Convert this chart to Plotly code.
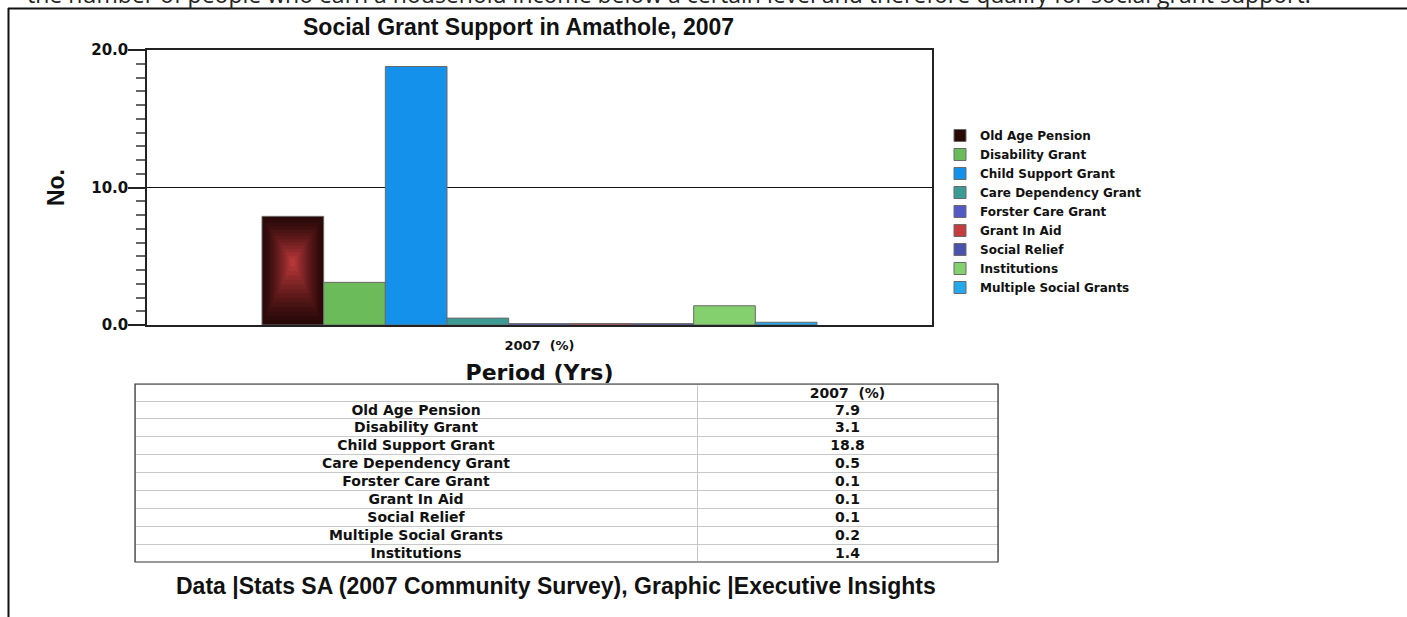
import plotly.graph_objects as go

# ---- data -------------------------------------------------------------
period = "2007  (%)"
grants = [
    "Old Age Pension",
    "Disability Grant",
    "Child Support Grant",
    "Care Dependency Grant",
    "Forster Care Grant",
    "Grant In Aid",
    "Social Relief",
    "Institutions",
    "Multiple Social Grants",
]
share_2007 = [7.9, 3.1, 18.8, 0.5, 0.1, 0.1, 0.1, 1.4, 0.2]
table_order = [
    "Old Age Pension",
    "Disability Grant",
    "Child Support Grant",
    "Care Dependency Grant",
    "Forster Care Grant",
    "Grant In Aid",
    "Social Relief",
    "Multiple Social Grants",
    "Institutions",
]
y_ticks = [0, 10, 20]

# ---- styling ----------------------------------------------------------
colors = ["#2a0909", "#6cbb5a", "#1391eb", "#3d9b95", "#5559c5",
          "#c63c3e", "#4a52ab", "#84d06e", "#23a9ec"]
W, H = 1407, 617
VERD = "DejaVu Sans"
ARIAL = "Liberation Sans"


def px_x(p):
    return p / W


def px_y(p):
    return 1 - p / H


group_w = 0.707
bw = group_w / len(grants)

fig = go.Figure()

for i, (name, val, col) in enumerate(zip(grants, share_2007, colors)):
    off = -group_w / 2 + i * bw
    fig.add_trace(go.Bar(
        x=[period], y=[val], name=name, width=bw, offset=off,
        marker=dict(color=col, line=dict(color="#6a6a6a", width=1)),
        hovertemplate="%{y:.1f}<extra>" + name + "</extra>",
    ))
    if i == 0:
        # concentric shading inside the first bar
        steps = 14
        c0 = (0x2a, 0x09, 0x09)
        c1 = (0xc6, 0x3c, 0x3e)
        cy = 0.58 * val
        for k in range(1, steps):
            t = k / steps
            f = t ** 1.3
            c = tuple(int(a + (b - a) * f) for a, b in zip(c0, c1))
            fig.add_trace(go.Bar(
                x=[period], y=[val * (1 - t)], base=[cy * t],
                width=bw * (1 - t), offset=off + bw * t / 2,
                marker=dict(color="rgb(%d,%d,%d)" % c, line=dict(width=0)),
                showlegend=False, hoverinfo="skip",
            ))

# ---- data table: grid layer + text layer --------------------------------
vals_by_name = dict(zip(grants, share_2007))
table_vals = [vals_by_name[n] for n in table_order]
tfont = dict(family=VERD, size=14, color="#111", weight="bold")
n_rows = len(table_order)

fig.add_trace(go.Table(
    domain=dict(x=[px_x(135), px_x(998)], y=[px_y(562), px_y(384)]),
    columnwidth=[562, 301],
    header=dict(values=["", ""], height=17, fill_color="white",
                line=dict(color="#c8c8c8", width=1)),
    cells=dict(values=[[""] * n_rows, [""] * n_rows], height=17.9,
               fill_color="white", line=dict(color="#c8c8c8", width=1)),
    hoverinfo="skip",
))
fig.add_trace(go.Table(
    domain=dict(x=[px_x(135), px_x(998)], y=[px_y(585), px_y(379)]),
    columnwidth=[562, 301],
    header=dict(values=["", period], height=17, align="center",
                fill_color="rgba(0,0,0,0)", line=dict(color="rgba(0,0,0,0)", width=0),
                font=tfont),
    cells=dict(values=[table_order, table_vals], format=[None, ".1f"],
               height=17.9, align="center",
               fill_color="rgba(0,0,0,0)", line=dict(color="rgba(0,0,0,0)", width=0),
               font=tfont),
))

fig.update_layout(
    width=W, height=H, autosize=False,
    margin=dict(l=0, r=0, t=0, b=0),
    paper_bgcolor="white", plot_bgcolor="white",
    barmode="overlay", bargap=1 - group_w,
    showlegend=True,
    legend=dict(x=px_x(940), y=px_y(121), xanchor="left", yanchor="top",
                font=dict(family=VERD, size=12, color="#111", weight="bold"),
                bgcolor="rgba(0,0,0,0)", itemwidth=30, tracegroupgap=0),
    xaxis=dict(domain=[px_x(147), px_x(932)], type="category",
               showline=True, linecolor="#222", linewidth=1.5, mirror=True,
               ticks="", ticklabelstandoff=8, showgrid=False, automargin=False,
               tickfont=dict(family=VERD, size=13, color="#111", weight="bold"),
               title=dict(text="Period (Yrs)", standoff=12,
                          font=dict(family=VERD, size=22, color="#111", weight="bold"))),
    yaxis=dict(domain=[px_y(325), px_y(50)], range=[0, 20],
               tickvals=y_ticks, tickformat=".1f",
               showline=True, linecolor="#222", linewidth=1.5, mirror=True,
               ticks="outside", ticklen=17, tickcolor="#222", tickwidth=1.5,
               minor=dict(dtick=1, ticks="outside", ticklen=9, tickcolor="#666",
                          tickwidth=1.5, showgrid=False),
               showgrid=True, gridcolor="#111", gridwidth=1, zeroline=False,
               automargin=False, ticklabelstandoff=-3,
               tickfont=dict(family=VERD, size=15, color="#111", weight="bold"),
               title=dict(text="No.", standoff=20,
                          font=dict(family=ARIAL, size=23, color="#111", weight="bold"))),
    shapes=[
        dict(type="rect", xref="paper", yref="paper",
             x0=px_x(135), x1=px_x(998), y0=px_y(562), y1=px_y(384),
             line=dict(color="#333", width=1.2)),
        dict(type="line", xref="paper", yref="paper",
             x0=px_x(8), x1=1, y0=px_y(8.5), y1=px_y(8.5),
             line=dict(color="#111", width=2)),
        dict(type="line", xref="paper", yref="paper",
             x0=px_x(8.5), x1=px_x(8.5), y0=px_y(8), y1=0,
             line=dict(color="#111", width=2)),
    ],
    annotations=[
        dict(text="the number of people who earn a household income below a certain level "
                  "and therefore qualify for social grant support.",
             xref="paper", yref="paper", x=px_x(25), y=px_y(-6), xanchor="left",
             yanchor="middle", showarrow=False,
             font=dict(family="Open Sans", size=23, color="#222")),
        dict(text="Social Grant Support in Amathole, 2007",
             xref="paper", yref="paper", x=px_x(518), y=px_y(27), xanchor="center",
             yanchor="middle", showarrow=False,
             font=dict(family=ARIAL, size=23, color="#111", weight="bold")),
        dict(text="Data |Stats SA (2007 Community Survey), Graphic |Executive Insights",
             xref="paper", yref="paper", x=px_x(556), y=px_y(586), xanchor="center",
             yanchor="middle", showarrow=False,
             font=dict(family=ARIAL, size=23, color="#111", weight="bold")),
    ],
)

fig.write_html("out.html")
